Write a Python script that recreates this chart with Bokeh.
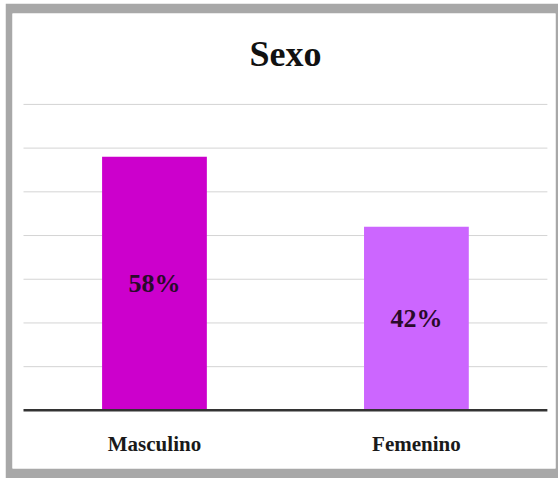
from bokeh.plotting import figure
from bokeh.models import ColumnDataSource, Range1d, Label
from bokeh.core.properties import value
from bokeh.embed import file_html
from bokeh.resources import INLINE

# ---- data ----
title_text = "Sexo"
categories = ["Masculino", "Femenino"]
percentages = [58, 42]
bar_colors = ["#cc00cc", "#cc66ff"]
grid_values = [10, 20, 30, 40, 50, 60, 70]

n = len(categories)
xs = [i + 0.5 for i in range(n)]

bars = ColumnDataSource(dict(
    x=xs,
    top=percentages,
    mid=[v / 2 for v in percentages],
    color=bar_colors,
    label=[f"{v}%" for v in percentages],
    cat=categories,
    cat_y=[-7.6] * n,
))

grid = ColumnDataSource(dict(
    x0=[0] * len(grid_values),
    x1=[n] * len(grid_values),
    y=grid_values,
))

p = figure(
    width=553, height=475,
    x_range=Range1d(-0.042, 2.031),
    y_range=Range1d(-13.3, 90.8),
    x_axis_type=None, y_axis_type=None,
    toolbar_location=None,
    output_backend="svg",
    title=None,
    min_border_left=7, min_border_right=3,
    min_border_top=10, min_border_bottom=10,
)
p.margin = (3, 2, 0, 5)
p.border_fill_color = "#a8a8a8"
p.background_fill_color = "#ffffff"
p.outline_line_color = None
p.grid.visible = False

# gridlines
p.segment(x0="x0", y0="y", x1="x1", y1="y", source=grid,
          line_color="#d4d4d4", line_width=1)

# bars
p.vbar(x="x", top="top", bottom=0, width=0.4, source=bars,
       fill_color="color", line_color=None)

# baseline
p.segment(x0=[0], y0=[0], x1=[n], y1=[0], line_color="#333333", line_width=2.5)

# value labels inside bars
p.text(x="x", y="mid", text="label", source=bars,
       text_font=value("Liberation Serif"), text_font_style="bold",
       text_font_size="26px", text_color="#2a0a2a",
       text_align="center", text_baseline="middle")

# category labels
p.text(x="x", y="cat_y", text="cat", source=bars,
       text_font=value("Liberation Serif"), text_font_style="bold",
       text_font_size="21px", text_color="#1a1a1a",
       text_align="center", text_baseline="middle")

# title
p.add_layout(Label(x=n / 2, y=81.5, text=title_text,
                   text_font="Liberation Serif", text_font_style="bold",
                   text_font_size="36px", text_color="#111111",
                   text_align="center", text_baseline="middle"))

open("out.html", "w").write(file_html(p, INLINE))
